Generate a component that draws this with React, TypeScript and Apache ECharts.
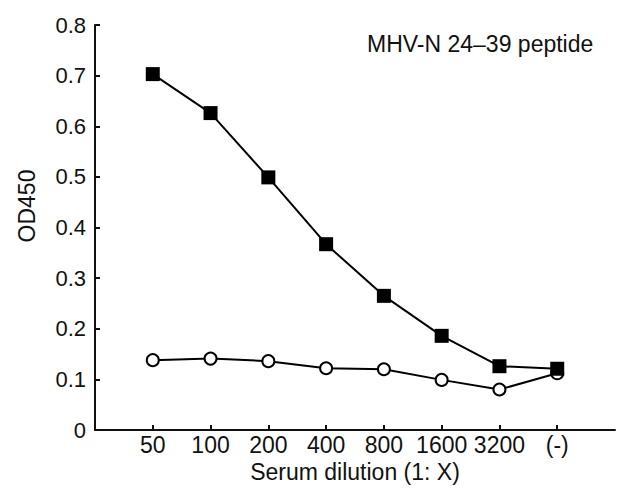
import React, { useEffect, useRef } from "react";
import * as echarts from "echarts";

const categories = ["", "50", "100", "200", "400", "800", "1600", "3200", "(-)", ""];
const peptideSerum = [null, 0.703, 0.626, 0.499, 0.367, 0.265, 0.186, 0.126, 0.121, null];
const controlSerum = [null, 0.138, 0.141, 0.136, 0.122, 0.12, 0.099, 0.08, 0.112, null];
const yTicks = { min: 0, max: 0.8, interval: 0.1 };
const titleText = "MHV-N 24–39 peptide";
const xName = "Serum dilution (1: X)";
const yName = "OD450";

const FONT = "Liberation Sans, Arial, Helvetica, sans-serif";
const INK = "#111";

export default function App() {
  const ref = useRef<HTMLDivElement>(null);
  useEffect(() => {
    if (!ref.current) return;
    const chart = echarts.init(ref.current, undefined, { renderer: "svg" });
    chart.setOption({
      animation: false,
      backgroundColor: "#fff",
      textStyle: { fontFamily: FONT, color: INK },
      title: {
        text: titleText,
        left: 362,
        top: 27,
        textStyle: { fontFamily: FONT, fontSize: 23, fontWeight: "normal", color: INK },
      },
      graphic: [
        {
          type: "text",
          x: 27,
          y: 206,
          rotation: Math.PI / 2,
          style: {
            text: yName,
            fontFamily: FONT,
            fontSize: 23,
            fill: INK,
            align: "center",
            verticalAlign: "middle",
          },
        },
      ],
      grid: { left: 95, right: 1, top: 25, bottom: 62, containLabel: false },
      xAxis: {
        type: "category",
        data: categories,
        boundaryGap: false,
        name: xName,
        nameLocation: "middle",
        nameGap: 28,
        nameTextStyle: { fontFamily: FONT, fontSize: 23, color: INK },
        axisLine: { lineStyle: { color: INK, width: 2 } },
        axisTick: {
          inside: true,
          length: 5,
          lineStyle: { color: INK, width: 2 },
          interval: (index: number) => index > 0 && index < categories.length - 1,
        },
        axisLabel: { interval: 0, fontFamily: FONT, fontSize: 23, color: INK, margin: 3 },
        splitLine: { show: false },
      },
      yAxis: {
        type: "value",
        min: yTicks.min,
        max: yTicks.max,
        interval: yTicks.interval,
        axisLine: { show: true, lineStyle: { color: INK, width: 2 } },
        axisTick: { show: true, inside: true, length: 5, lineStyle: { color: INK, width: 2 } },
        axisLabel: {
          fontFamily: FONT,
          fontSize: 22,
          color: INK,
          margin: 9,
          formatter: (v: number) => (v === 0 ? "0" : v.toFixed(1)),
        },
        splitLine: { show: false },
      },
      series: [
        {
          type: "line",
          data: controlSerum,
          symbol: "circle",
          symbolSize: 12,
          showAllSymbol: true,
          lineStyle: { color: "#000", width: 2 },
          itemStyle: { color: "#fff", borderColor: "#000", borderWidth: 2 },
          z: 2,
        },
        {
          type: "line",
          data: peptideSerum,
          symbol: "rect",
          symbolSize: 14,
          showAllSymbol: true,
          lineStyle: { color: "#000", width: 2 },
          itemStyle: { color: "#000", borderColor: "#000", borderWidth: 0 },
          z: 3,
        },
      ],
    });
    return () => chart.dispose();
  }, []);
  return (
    <div
      ref={ref}
      style={{ position: "absolute", left: 0, top: 0, width: 618, height: 492 }}
    />
  );
}
